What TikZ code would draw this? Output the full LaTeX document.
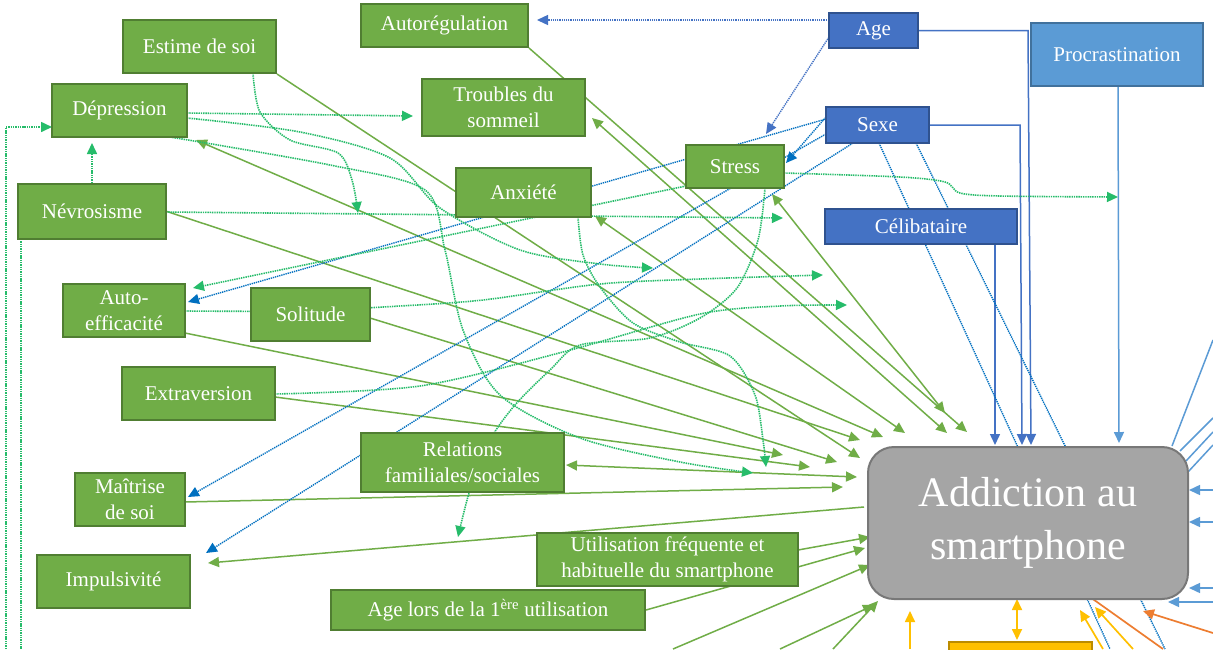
\documentclass[tikz,border=0pt]{standalone}
\usepackage{fontspec}
\setmainfont{Liberation Serif}
\usetikzlibrary{arrows.meta}
\definecolor{gfill}{HTML}{70AD47}
\definecolor{gbord}{HTML}{507E32}
\definecolor{bfill}{HTML}{4472C4}
\definecolor{bbord}{HTML}{2F528F}
\definecolor{pfill}{HTML}{5B9BD5}
\definecolor{pbord}{HTML}{41719C}
\definecolor{afill}{HTML}{A5A5A5}
\definecolor{abord}{HTML}{787878}
\definecolor{yfill}{HTML}{FFC000}
\definecolor{ybord}{HTML}{BC8C00}
\definecolor{gline}{HTML}{70AD47}
\definecolor{gdot}{HTML}{00B050}
\definecolor{bdot}{HTML}{0070C0}
\definecolor{bline}{HTML}{4472C4}
\definecolor{lline}{HTML}{5B9BD5}
\definecolor{oline}{HTML}{ED7D31}
\pgfdeclarelayer{bg}
\pgfsetlayers{bg,main}
\begin{document}
\begin{tikzpicture}[x=1pt,y=-1pt,
  box/.style={draw, line width=2pt, inner sep=0pt, text=white, align=center,
    font=\fontsize{21}{26}\selectfont},
  gbox/.style={box, fill=gfill, draw=gbord},
  bbox/.style={box, fill=bfill, draw=bbord},
  pbox/.style={box, fill=pfill, draw=pbord},
  tipend/.style={-{Triangle[length=11pt,width=10pt]}},
  tipboth/.style={{Triangle[length=11pt,width=10pt]}-{Triangle[length=11pt,width=10pt]}},
  gl/.style={draw=gline, line width=1.5pt},
  gd/.style={draw=gdot!85, line width=1.6pt, dash pattern=on 1.4pt off 0.9pt},
  bd/.style={draw=bdot, line width=1.4pt, dash pattern=on 1.3pt off 0.9pt},
  bda/.style={draw=bline, line width=1.4pt, dash pattern=on 1.3pt off 0.9pt},
  bl/.style={draw=bline, line width=1.5pt},
  ll/.style={draw=lline, line width=1.5pt},
  yl/.style={draw=yfill, line width=1.7pt},
  ol/.style={draw=oline, line width=1.7pt}
]
\useasboundingbox (0,0) rectangle (1213,649);

% ---------- nodes ----------
\node[gbox, minimum width=153pt, minimum height=53pt] (estime) at (199.5,46.5) {Estime de soi};
\node[gbox, minimum width=135pt, minimum height=53pt] (depr) at (119.5,110.5) {Dépression};
\node[gbox, minimum width=148pt, minimum height=55pt] (nevro) at (92,211.5) {Névrosisme};
\node[gbox, minimum width=167pt, minimum height=43pt] (autoreg) at (444.5,25.5) {Autorégulation};
\node[gbox, minimum width=163pt, minimum height=57pt] (troubles) at (503.5,107.5) {Troubles du\\sommeil};
\node[gbox, minimum width=135pt, minimum height=49pt] (anx) at (523.5,192.5) {Anxiété};
\node[gbox, minimum width=98pt, minimum height=43pt] (stress) at (735,166.5) {Stress};
\node[bbox, minimum width=89pt, minimum height=35pt] (age) at (873.5,30.5) {Age};
\node[bbox, minimum width=103pt, minimum height=36pt] (sexe) at (877.5,125) {Sexe};
\node[bbox, minimum width=192pt, minimum height=35pt] (celib) at (921,226.5) {Célibataire};
\node[pbox, minimum width=172pt, minimum height=63pt] (procr) at (1117,54.5) {Procrastination};
\node[gbox, minimum width=122pt, minimum height=53pt] (autoeff) at (124,310.5) {Auto-\\efficacité};
\node[gbox, minimum width=119pt, minimum height=53pt] (solitude) at (310.5,314.5) {Solitude};
\node[gbox, minimum width=153pt, minimum height=53pt] (extra) at (198.5,393.5) {Extraversion};
\node[gbox, minimum width=110pt, minimum height=53pt] (maitrise) at (130,499.5) {Maîtrise\\de soi};
\node[gbox, minimum width=153pt, minimum height=53pt] (impuls) at (113.5,581.5) {Impulsivité};
\node[gbox, minimum width=203pt, minimum height=59pt] (relations) at (462.5,462.5) {Relations\\familiales/sociales};
\node[gbox, minimum width=261pt, minimum height=53pt] (util) at (667.5,559.5) {Utilisation fréquente et\\habituelle du smartphone};
\node[gbox, minimum width=314pt, minimum height=40pt] (agelors) at (488,610) {Age lors de la 1\textsuperscript{ère} utilisation};
\node[draw=abord, fill=afill, line width=2pt, rounded corners=26pt, minimum width=320pt,
  minimum height=152pt, inner sep=0pt, text=white, align=center,
  font=\fontsize{42}{53}\selectfont] (addict) at (1028,523) {Addiction au\\smartphone};
\node[draw=ybord, fill=yfill, line width=2pt, minimum width=143pt, minimum height=58pt] (ybox) at (1020.5,671) {};

% ---------- connectors ----------
\begin{pgfonlayer}{bg}
\fill[white] (0,0) rectangle (1213,649);
% solid green
\draw[gl,tipend] (autoreg.south east) -- (967,432);
\draw[gl,tipboth] (592,118) -- (947,433);
\draw[gl,tipboth] (772,194) -- (945,413);
\draw[gl,tipboth] (595,216) -- (905,433);
\draw[gl,tipboth] (196,140) -- (883,437);
\draw[gl,tipend] (nevro.east) -- (860,440);
\draw[gl,tipend] (estime.south east) -- (860,458);
\draw[gl,tipend] (370,318) -- (837,462);
\draw[gl,tipend] (275,397) -- (810,467);
\draw[gl,tipend] (185,333) -- (783,455);
\draw[gl,tipboth] (566,465) -- (857,477);
\draw[gl,tipend] (185,502) -- (843,487);
\draw[gl,tipend] (864,507) -- (208,563);
\draw[gl,tipend] (798,550) -- (870,537);
\draw[gl,tipend] (agelors.east) -- (865,548);
\draw[gl,tipend] (673,649) -- (870,565);
\draw[gl,tipend] (780,649) -- (874,605);
\draw[gl,tipend] (833,649) -- (878,601);
% solid blue
\draw[bl,tipend] (age.east) -- (1028,30.5) -- (1031,445);
\draw[bl,tipend] (sexe.east) -- (1020,125) -- (1022,445);
\draw[bl,tipend] (995,244) -- (995,445);
\draw[ll,tipend] (1118,86) -- (1119,443);
% dotted blue
\draw[bda,tipend] (829,20) -- (537,20);
\draw[bda,tipend] (829,37) -- (766,134);
\draw[bd,tipend] (826,117) -- (786,163);
\draw[bd,tipend] (826,119) -- (188,302);
\draw[bd,tipend] (826,134) -- (188,497);
\draw[bd,tipend] (853,143) -- (206,553);
\draw[bd] (879,143) -- (1110,649);
\draw[bd] (916,143) -- (1165,649);
% dotted green
\draw[gd,tipend] (nevro.north) -- (92,143);
\draw[gd] (21,239) -- (21,649);
\draw[gd,tipend] (6,649) -- (6,127) -- (52,127);
\draw[gd,tipend] (187,113) -- (413,116);
\draw[gd,tipend] plot[smooth] coordinates {(253,73) (260,112) (290,140) (338,153) (352,180) (358,213)};
\draw[gd,tipend] (166,212) -- (783,218);
\draw[gd,tipend] plot[smooth] coordinates {(187,118) (300,132) (390,158) (440,208) (520,250) (600,264) (653,268)};
\draw[gd,tipend] plot[smooth] coordinates {(170,137) (330,165) (425,190) (445,250) (463,330) (500,395) (580,438) (680,462) (753,473)};
\draw[gd,tipend] (686,186) -- (193,288);
\draw[gd,tipend] plot[smooth] coordinates {(185,311) (300,311) (400,306) (483,300) (600,284) (700,279) (823,275)};
\draw[gd,tipend] plot[smooth] coordinates {(275,394) (420,386) (563,352) (700,314) (780,306) (847,305)};
\draw[gd,tipend] plot[smooth] coordinates {(578,217) (583,255) (600,287) (633,323) (680,342) (730,356) (755,395) (763,440) (766,467)};
\draw[gd,tipend] plot[smooth] coordinates {(765,188) (758,240) (737,288) (700,318) (650,338) (580,345) (550,370) (515,405) (490,440) (470,490) (458,537)};
\draw[gd,tipend] plot[smooth] coordinates {(784,173) (900,177) (945,182) (960,193) (1000,196) (1118,197)};
% right-side blue
\draw[ll] (1213,340) -- (1172,446);
\draw[ll] (1213,418) -- (1180,451);
\draw[ll] (1213,432) -- (1186,461);
\draw[ll] (1213,445) -- (1188,472);
\draw[ll,tipend] (1213,490) -- (1189,490);
\draw[ll,tipend] (1213,522) -- (1189,522);
\draw[ll,tipend] (1213,588) -- (1189,588);
\draw[ll,tipend] (1213,602) -- (1168,602);
% bottom yellow / orange
\draw[yl,tipend] (910,649) -- (910,611);
\draw[yl,tipboth] (1017,640) -- (1017,599);
\draw[yl,tipend] (1103,649) -- (1080,610);
\draw[yl,tipend] (1133,649) -- (1095,607);
\draw[ol] (1090,597) -- (1163,649);
\draw[ol,tipend] (1213,633) -- (1143,611);
\end{pgfonlayer}
\end{tikzpicture}
\end{document}
